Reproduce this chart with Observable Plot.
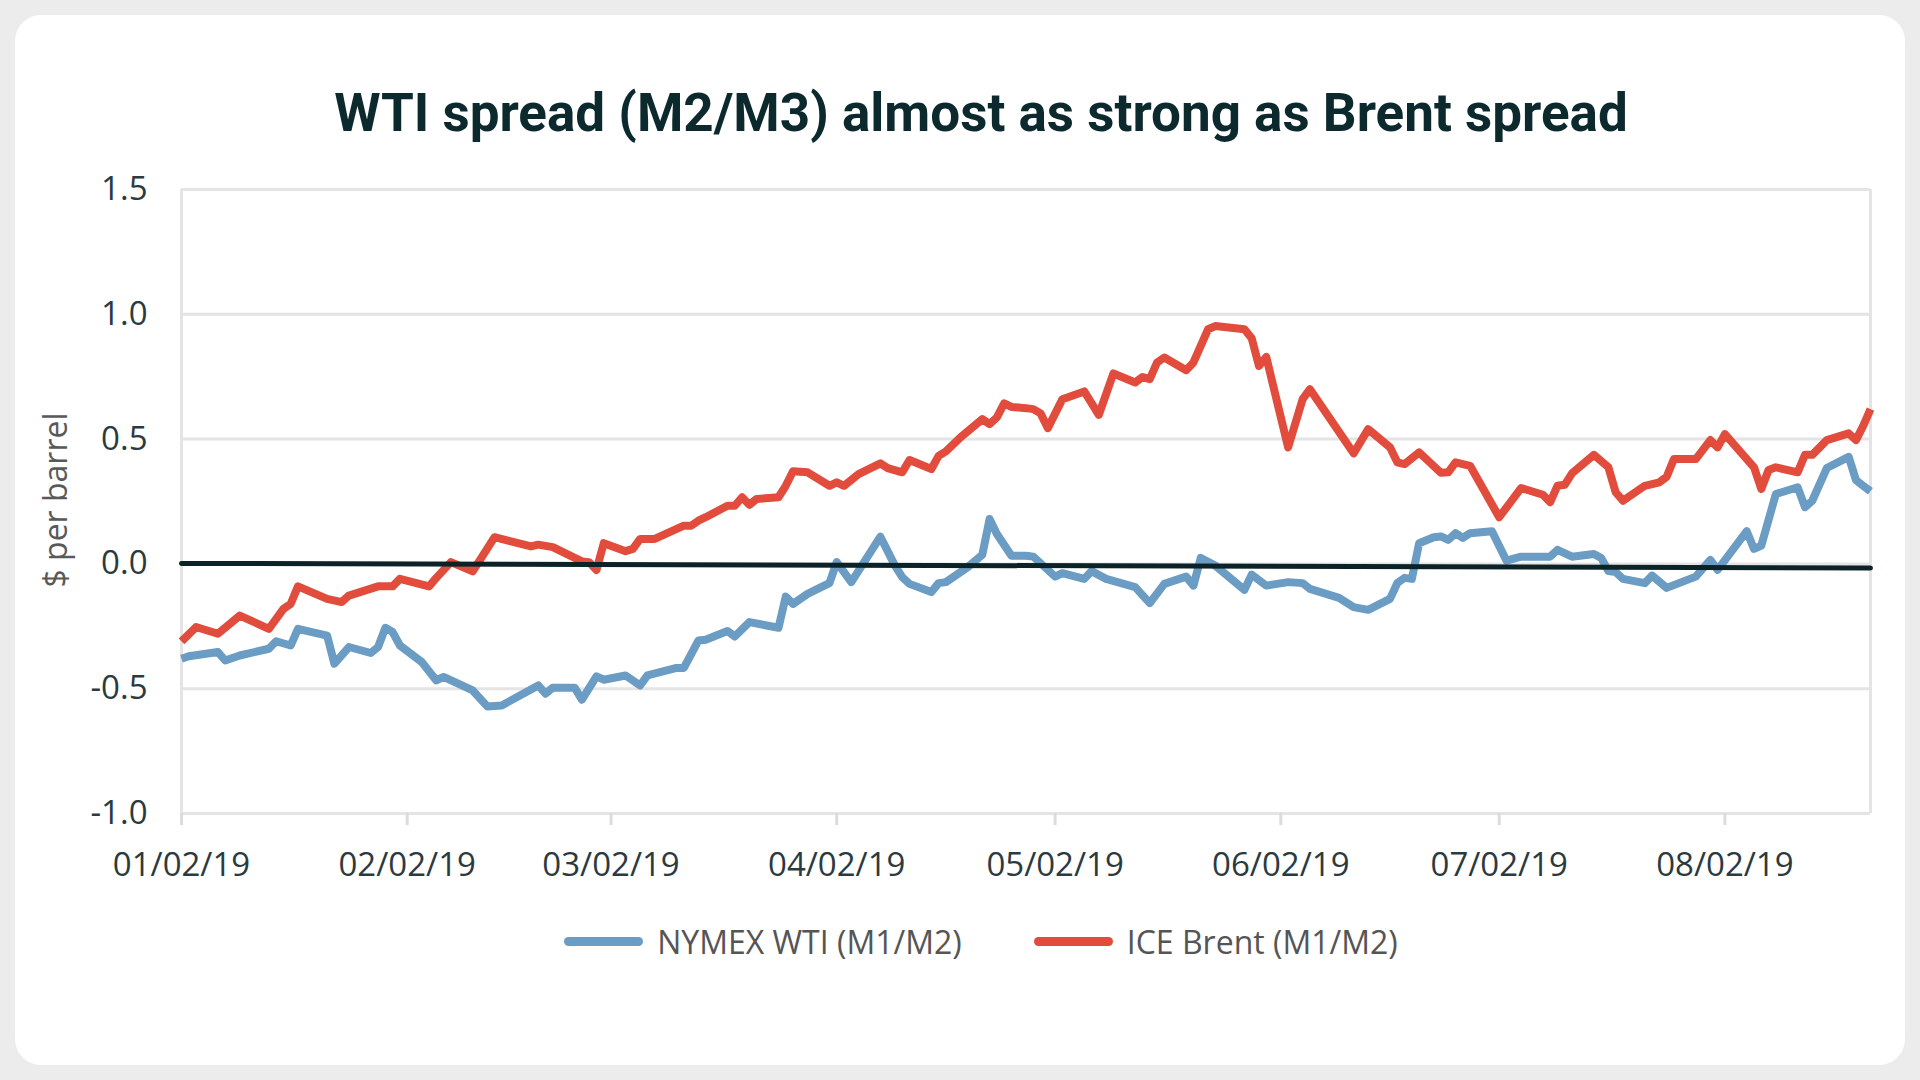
<!DOCTYPE html>
<html>
<head>
<meta charset="utf-8">
<script src="https://cdn.jsdelivr.net/npm/d3@7"></script>
<script src="https://cdn.jsdelivr.net/npm/@observablehq/plot@0.6"></script>
<style>
  html, body { margin: 0; padding: 0; }
  body { width: 1920px; height: 1080px; background: #ececec; position: relative; overflow: hidden; font-family: "Open Sans", sans-serif; }
  #card { position: absolute; left: 15px; top: 15px; width: 1890px; height: 1050px; background: #ffffff; border-radius: 26px; }
  #title { position: absolute; left: 0; width: 1962px; top: 83px; text-align: center; font-family: Roboto, "Open Sans", sans-serif; font-weight: 700; font-size: 53px; color: #0c292e; line-height: 60px; white-space: nowrap; }
  #chart { position: absolute; left: 0; top: 150px; }
  #ylabel { position: absolute; left: 54px; top: 500px; transform: translate(-50%, -50%) rotate(-90deg); font-size: 32px; color: #595959; white-space: nowrap; }
  #legend { position: absolute; left: 0; width: 1962px; top: 917px; height: 48px; display: flex; justify-content: center; align-items: center; font-size: 32px; color: #555555; }
  .item { display: flex; align-items: center; margin: 0 36px; }
  .sw { width: 79px; height: 9px; border-radius: 4.5px; margin-right: 14px; }
</style>
</head>
<body>
<div id="card"></div>
<div id="title"></div>
<div id="ylabel"></div>
<div id="chart"></div>
<div id="legend"></div>
<script>
// ---- Data ----
const titleText = "WTI spread (M2/M3) almost as strong as Brent spread";
const yAxisLabel = "$ per barrel";
const seriesNames = ["NYMEX WTI (M1/M2)", "ICE Brent (M1/M2)"];
const seriesColors = ["#6b9cc4", "#e14c3c"];

const xDomain = ["2019-01-02", "2019-08-22"];
const xTickDates = ["2019-01-02", "2019-02-02", "2019-03-02", "2019-04-02", "2019-05-02", "2019-06-02", "2019-07-02", "2019-08-02"];
const yTicks = [-1.0, -0.5, 0.0, 0.5, 1.0, 1.5];

// Horizontal reference line near zero (slightly tilted in the original)
const zeroLineDates = ["2019-01-02", "2019-08-22"];
const zeroLineValues = [0.002, -0.016];

const wtiDates = [
  "2019-01-02","2019-01-03","2019-01-07","2019-01-08","2019-01-10","2019-01-14","2019-01-15","2019-01-17","2019-01-18","2019-01-22",
  "2019-01-23","2019-01-25","2019-01-28","2019-01-29","2019-01-30","2019-01-31","2019-02-01","2019-02-04","2019-02-06","2019-02-07",
  "2019-02-11","2019-02-13","2019-02-15","2019-02-20","2019-02-21","2019-02-22","2019-02-25","2019-02-26","2019-02-28","2019-03-01",
  "2019-03-04","2019-03-06","2019-03-07","2019-03-11","2019-03-12","2019-03-14","2019-03-15","2019-03-18","2019-03-19","2019-03-21",
  "2019-03-25","2019-03-26","2019-03-27","2019-03-29","2019-03-31","2019-04-01","2019-04-02","2019-04-04","2019-04-08","2019-04-10",
  "2019-04-11","2019-04-12","2019-04-15","2019-04-16","2019-04-17","2019-04-20","2019-04-22","2019-04-23","2019-04-24","2019-04-26",
  "2019-04-28","2019-04-29","2019-05-01","2019-05-02","2019-05-03","2019-05-06","2019-05-07","2019-05-09","2019-05-13","2019-05-15",
  "2019-05-17","2019-05-20","2019-05-21","2019-05-22","2019-05-24","2019-05-28","2019-05-29","2019-05-31","2019-06-03","2019-06-05",
  "2019-06-06","2019-06-10","2019-06-12","2019-06-14","2019-06-17","2019-06-18","2019-06-19","2019-06-20","2019-06-21","2019-06-23",
  "2019-06-24","2019-06-25","2019-06-26","2019-06-27","2019-06-28","2019-07-01","2019-07-03","2019-07-05","2019-07-09","2019-07-10",
  "2019-07-12","2019-07-15","2019-07-16","2019-07-17","2019-07-18","2019-07-19","2019-07-22","2019-07-23","2019-07-25","2019-07-29",
  "2019-07-31","2019-08-01","2019-08-05","2019-08-06","2019-08-07","2019-08-09","2019-08-12","2019-08-13","2019-08-14","2019-08-16",
  "2019-08-19","2019-08-20","2019-08-21","2019-08-22"
];
const wtiValues = [
  -0.38,-0.37,-0.353,-0.387,-0.367,-0.34,-0.31,-0.327,-0.26,-0.287,
  -0.40,-0.333,-0.357,-0.333,-0.256,-0.273,-0.327,-0.393,-0.467,-0.453,
  -0.507,-0.571,-0.567,-0.487,-0.52,-0.496,-0.496,-0.544,-0.451,-0.464,
  -0.447,-0.487,-0.447,-0.417,-0.417,-0.307,-0.304,-0.269,-0.291,-0.233,
  -0.256,-0.131,-0.16,-0.12,-0.091,-0.077,0.007,-0.073,0.109,-0.007,
  -0.053,-0.08,-0.113,-0.077,-0.073,-0.013,0.037,0.18,0.12,0.033,
  0.033,0.029,-0.024,-0.051,-0.037,-0.06,-0.029,-0.06,-0.093,-0.157,
  -0.08,-0.051,-0.087,0.024,-0.007,-0.104,-0.043,-0.087,-0.073,-0.077,
  -0.1,-0.136,-0.173,-0.184,-0.14,-0.077,-0.056,-0.06,0.083,0.107,
  0.11,0.096,0.123,0.104,0.123,0.131,0.013,0.029,0.029,0.056,
  0.029,0.04,0.024,-0.029,-0.033,-0.06,-0.077,-0.047,-0.096,-0.051,
  0.016,-0.024,0.131,0.06,0.073,0.28,0.307,0.227,0.253,0.384,
  0.429,0.336,0.313,0.291
];

const brentDates = [
  "2019-01-02","2019-01-04","2019-01-07","2019-01-10","2019-01-14","2019-01-16","2019-01-17","2019-01-18","2019-01-22","2019-01-24",
  "2019-01-25","2019-01-29","2019-01-31","2019-02-01","2019-02-05","2019-02-06","2019-02-08","2019-02-11","2019-02-14","2019-02-19",
  "2019-02-20","2019-02-22","2019-02-26","2019-02-27","2019-02-28","2019-03-01","2019-03-04","2019-03-05","2019-03-06","2019-03-08",
  "2019-03-12","2019-03-13","2019-03-14","2019-03-15","2019-03-18","2019-03-19","2019-03-20","2019-03-21","2019-03-22","2019-03-25",
  "2019-03-26","2019-03-27","2019-03-29","2019-04-01","2019-04-02","2019-04-03","2019-04-05","2019-04-08","2019-04-09","2019-04-11",
  "2019-04-12","2019-04-15","2019-04-16","2019-04-17","2019-04-19","2019-04-22","2019-04-23","2019-04-24","2019-04-25","2019-04-26",
  "2019-04-28","2019-04-29","2019-04-30","2019-05-01","2019-05-03","2019-05-06","2019-05-08","2019-05-10","2019-05-13","2019-05-14",
  "2019-05-15","2019-05-16","2019-05-17","2019-05-20","2019-05-21","2019-05-23","2019-05-24","2019-05-28","2019-05-29","2019-05-30",
  "2019-05-31","2019-06-03","2019-06-05","2019-06-06","2019-06-12","2019-06-14","2019-06-17","2019-06-18","2019-06-19","2019-06-21",
  "2019-06-24","2019-06-25","2019-06-26","2019-06-28","2019-07-02","2019-07-05","2019-07-08","2019-07-09","2019-07-10","2019-07-11",
  "2019-07-12","2019-07-15","2019-07-17","2019-07-18","2019-07-19","2019-07-22","2019-07-24","2019-07-25","2019-07-26","2019-07-29",
  "2019-07-31","2019-08-01","2019-08-02","2019-08-06","2019-08-07","2019-08-08","2019-08-09","2019-08-12","2019-08-13","2019-08-14",
  "2019-08-16","2019-08-19","2019-08-20","2019-08-21","2019-08-22"
];
const brentValues = [
  -0.31,-0.253,-0.28,-0.207,-0.26,-0.18,-0.16,-0.09,-0.14,-0.153,
  -0.127,-0.09,-0.09,-0.06,-0.09,-0.056,0.007,-0.03,0.107,0.07,
  0.077,0.067,0.01,0.007,-0.024,0.083,0.051,0.06,0.1,0.1,
  0.153,0.153,0.173,0.187,0.233,0.233,0.267,0.237,0.26,0.267,
  0.313,0.371,0.367,0.313,0.327,0.313,0.36,0.403,0.384,0.367,
  0.416,0.38,0.433,0.451,0.507,0.58,0.56,0.587,0.643,0.629,
  0.624,0.62,0.603,0.544,0.66,0.691,0.597,0.763,0.727,0.749,
  0.74,0.807,0.827,0.776,0.807,0.94,0.953,0.94,0.904,0.793,
  0.829,0.467,0.66,0.7,0.443,0.54,0.467,0.407,0.4,0.447,
  0.365,0.367,0.407,0.393,0.187,0.304,0.277,0.247,0.313,0.317,
  0.363,0.437,0.387,0.287,0.253,0.313,0.327,0.349,0.42,0.42,
  0.496,0.467,0.52,0.387,0.3,0.376,0.387,0.367,0.437,0.437,
  0.496,0.523,0.496,0.553,0.62
];

// ---- Build ----
const parse = d3.utcParse("%Y-%m-%d");
const wti = wtiDates.map((d, i) => ({date: parse(d), value: wtiValues[i]}));
const brent = brentDates.map((d, i) => ({date: parse(d), value: brentValues[i]}));
const zero = zeroLineDates.map((d, i) => ({date: parse(d), value: zeroLineValues[i]}));
const domain = xDomain.map(parse);
const ticks = xTickDates.map(parse);

document.getElementById("title").textContent = titleText;
document.getElementById("ylabel").textContent = yAxisLabel;

const frameColor = "#e4e4e4";
const chart = Plot.plot({
  width: 1920,
  height: 750,
  marginLeft: 181,
  marginRight: 50,
  marginTop: 39,
  marginBottom: 87,
  x: {type: "utc", domain},
  y: {domain: [-1, 1.5]},
  style: {fontFamily: "'Open Sans', sans-serif", fontSize: "33px", color: "#2b3a3e", background: "transparent", overflow: "visible"},
  marks: [
    Plot.gridY(yTicks, {stroke: frameColor, strokeOpacity: 1, strokeWidth: 3}),
    Plot.ruleX(domain, {stroke: frameColor, strokeWidth: 3}),
    Plot.axisY(yTicks, {tickSize: 0, tickPadding: 34, tickFormat: d => d.toFixed(1), label: null}),
    Plot.axisX(ticks, {tickSize: 12, tickPadding: 27, stroke: "#dcdcdc", strokeWidth: 3, tickFormat: d3.utcFormat("%m/%d/%y"), label: null}),
    Plot.lineY(brent, {x: "date", y: "value", stroke: seriesColors[1], strokeWidth: 8, strokeLinejoin: "round", strokeLinecap: "butt"}),
    Plot.lineY(wti, {x: "date", y: "value", stroke: seriesColors[0], strokeWidth: 8, strokeLinejoin: "round", strokeLinecap: "butt"}),
    Plot.line(zero, {x: "date", y: "value", stroke: "#0b2226", strokeWidth: 5})
  ]
});
document.getElementById("chart").appendChild(chart);

const legend = document.getElementById("legend");
seriesNames.forEach((name, i) => {
  const item = document.createElement("div");
  item.className = "item";
  const sw = document.createElement("div");
  sw.className = "sw";
  sw.style.background = seriesColors[i];
  const lab = document.createElement("span");
  lab.textContent = name;
  item.appendChild(sw);
  item.appendChild(lab);
  legend.appendChild(item);
});
</script>
</body>
</html>
